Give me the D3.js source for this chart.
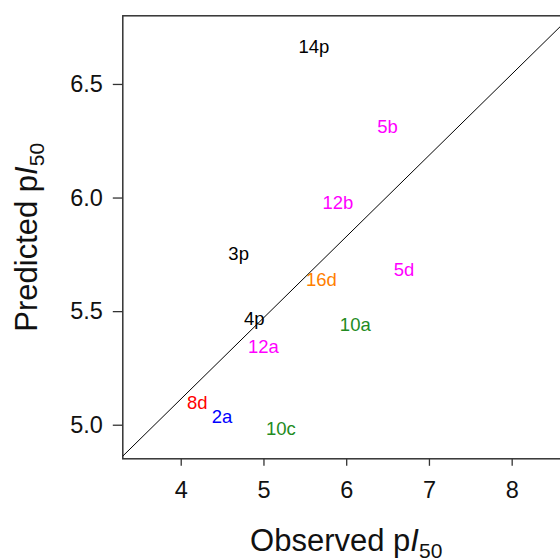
<!DOCTYPE html>
<html>
<head>
<meta charset="utf-8">
<script src="https://cdn.jsdelivr.net/npm/d3@7"></script>
<style>
  body { margin: 0; background: #fff; }
  svg { font-family: "Liberation Sans", Arial, sans-serif; }
</style>
</head>
<body>
<div id="chart"></div>
<script>
// compound labels, observed vs predicted pI50
const labels = ["14p", "5b", "12b", "3p", "16d", "5d", "4p", "10a", "12a", "8d", "2a", "10c"];
const observed = [5.61, 6.50, 5.90, 4.70, 5.70, 6.70, 4.89, 6.11, 5.00, 4.20, 4.50, 5.21];
const predicted = [6.666, 6.312, 5.981, 5.756, 5.642, 5.683, 5.468, 5.443, 5.346, 5.100, 5.035, 4.984];
const colors = ["black", "magenta", "magenta", "black", "#ff7f00", "magenta", "black", "#228b22", "magenta", "red", "blue", "#228b22"];

const xTicks = [4, 5, 6, 7, 8];
const yTicks = [5.0, 5.5, 6.0, 6.5];
// reference line ends (data units)
const refLine = [[3.3, 4.862], [8.7, 6.793]];

const width = 560, height = 558;

const svg = d3.select("#chart")
  .append("svg")
  .attr("width", width)
  .attr("height", height);

const x = d3.scaleLinear()
  .domain([3.3, 8.7])
  .range([122.8, 569.6]);

const y = d3.scaleLinear()
  .domain([4.85, 6.8])
  .range([458.8, 15.8]);

// axes
const xAxis = svg.append("g")
  .attr("transform", `translate(0,${y.range()[0]})`)
  .call(d3.axisBottom(x).tickValues(xTicks).tickSize(7).tickPadding(16).tickFormat(d3.format("d")));

const yAxis = svg.append("g")
  .attr("transform", `translate(${x.range()[0]},0)`)
  .call(d3.axisLeft(y).tickValues(yTicks).tickSize(10).tickPadding(10).tickFormat(d3.format(".1f")));

[xAxis, yAxis].forEach(g => {
  g.select(".domain").remove();
  g.selectAll("line").attr("stroke", "#333").attr("stroke-width", 1.3);
  g.selectAll("text")
    .attr("fill", "#111")
    .style("font-size", "23.5px");
});

// frame
svg.append("rect")
  .attr("x", x.range()[0])
  .attr("y", y.range()[1])
  .attr("width", x.range()[1] - x.range()[0])
  .attr("height", y.range()[0] - y.range()[1])
  .attr("fill", "none")
  .attr("stroke", "#333")
  .attr("stroke-width", 1.5);

// diagonal reference line
svg.append("path")
  .datum(refLine)
  .attr("fill", "none")
  .attr("stroke", "black")
  .attr("stroke-width", 1)
  .attr("d", d3.line().x(d => x(d[0])).y(d => y(d[1])));

// point labels
svg.append("g")
  .selectAll("text")
  .data(labels)
  .join("text")
  .attr("x", (d, i) => x(observed[i]))
  .attr("y", (d, i) => y(predicted[i]))
  .attr("dy", "0.36em")
  .attr("text-anchor", "middle")
  .attr("fill", (d, i) => colors[i])
  .style("font-size", "18.5px")
  .text(d => d);

// axis titles
const xt = svg.append("text")
  .attr("x", (x.range()[0] + x.range()[1]) / 2)
  .attr("y", 551)
  .attr("text-anchor", "middle")
  .style("font-size", "31px")
  .attr("fill", "#111");
xt.append("tspan").text("Observed p");
xt.append("tspan").attr("font-style", "italic").text("I");
xt.append("tspan").attr("dy", 7).style("font-size", "21px").text("50");

const yt = svg.append("text")
  .attr("transform", `translate(37,${(y.range()[0] + y.range()[1]) / 2}) rotate(-90)`)
  .attr("text-anchor", "middle")
  .style("font-size", "31px")
  .attr("fill", "#111");
yt.append("tspan").text("Predicted p");
yt.append("tspan").attr("font-style", "italic").text("I");
yt.append("tspan").attr("dy", 7).style("font-size", "21px").text("50");
</script>
</body>
</html>
